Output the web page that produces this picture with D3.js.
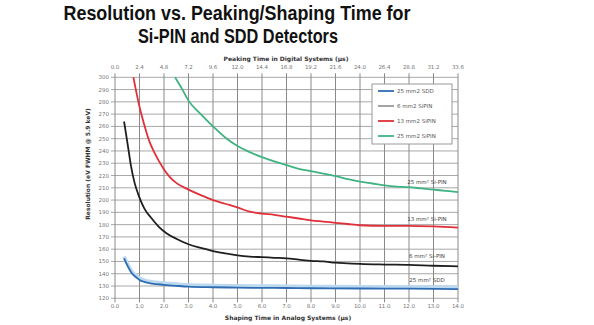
<!DOCTYPE html>
<html><head><meta charset="utf-8">
<script src="https://cdn.jsdelivr.net/npm/d3@7"></script>
<style>body{margin:0;background:#fff}svg{display:block}</style>
</head><body>
<svg id="c" width="594" height="325"></svg>
<script>
const xTicks = [0,1,2,3,4,5,6,7,8,9,10,11,12,13,14];
const topTickLabels = ["0.0","2.4","4.8","7.2","9.6","12.0","14.4","16.8","19.2","21.6","24.0","26.4","28.8","31.2","33.6"];
const yTicks = [120,130,140,150,160,170,180,190,200,210,220,230,240,250,260,270,280,290,300];

const seriesNames = ["25 mm2 SDD","6 mm2 SiPIN","13 mm2 SiPIN","25 mm2 SiPIN"];
const seriesColors = ["#2f6db3","#1f1f1f","#e0303a","#3fb382"];
const legendColors = ["#2f6db3","#9a9a9a","#e0303a","#3fb382"];

const sddX = [0.37,0.45,0.55,0.65,0.75,0.9,1.0,1.2,1.5,2.0,2.5,3.0,4.0,5.0,6.0,7.0,8.0,10.0,12.0,14.0];
const sddY = [152.5,149,145,141.5,139,136.5,135,133.3,132,131,130.2,129.5,129,128.7,128.5,128.4,128.2,128,127.8,127.5];

const pin6X = [0.37,0.45,0.55,0.65,0.8,1.0,1.2,1.5,1.8,2.1,2.5,3.0,3.5,4.0,4.5,5.0,5.5,6.0,6.5,7.0,7.5,8.0,8.5,9.0,9.5,10.0,11.0,12.0,13.0,14.0];
const pin6Y = [264,254,241,228,214,202,193,185,178,173,168.5,164,161,158.5,156.5,155,154,153.5,153,152.5,151.5,150.5,150,149,148.5,148,147.5,147.2,146.5,146];

const pin13X = [0.75,0.85,1.0,1.2,1.4,1.6,1.8,2.0,2.25,2.5,2.75,3.0,3.5,4.0,4.5,5.0,5.5,6.0,6.5,7.0,7.5,8.0,8.5,9.0,9.5,10.0,11.0,12.0,13.0,14.0];
const pin13Y = [300,290,276,261,248,239,231.5,225,218.5,214,211,208.5,204,200,197,194,190.5,189,188,186.5,185,183.5,182.5,181.5,180.5,179.5,179,179,178.5,177.5];

const pin25X = [2.45,2.75,3.0,3.5,4.0,4.5,5.0,5.5,6.0,6.5,7.0,7.5,8.0,8.5,9.0,9.5,10.0,10.5,11.0,11.5,12.0,12.5,13.0,13.5,14.0];
const pin25Y = [300,290,281,270,260,251,244,239,235,231.5,228.5,225.5,223.5,221.5,219.5,217,215,213.5,212,211,210.5,209.5,208.5,207.5,206.5];

const curveLabels = ["25 mm² SDD","6 mm² Si-PIN","13 mm² Si-PIN","25 mm² Si-PIN"];
const curveLabelY = [133,153,183,213];

const svg = d3.select("#c");
const L = 115, R = 458, T = 77.3, B = 298.3;
const x = d3.scaleLinear().domain([0,14]).range([L,R]);
const y = d3.scaleLinear().domain([120,300]).range([B,T]);

// title
const title = svg.append("g").attr("font-family","'Liberation Sans', Arial, sans-serif").attr("font-weight","bold").attr("font-size",20).attr("fill","#111").attr("text-anchor","middle");
title.append("text").attr("x",237).attr("y",20).attr("textLength",347).attr("lengthAdjust","spacingAndGlyphs").text("Resolution vs. Peaking/Shaping Time for");
title.append("text").attr("x",238).attr("y",43).attr("textLength",200).attr("lengthAdjust","spacingAndGlyphs").text("Si-PIN and SDD Detectors");

// grid
const grid = svg.append("g");
grid.selectAll("line.h").data(yTicks).join("line")
  .attr("x1",L-4).attr("x2",R).attr("y1",d=>y(d)).attr("y2",d=>y(d))
  .attr("stroke","#a8a8a8").attr("stroke-width",1);
grid.selectAll("line.v").data(xTicks).join("line")
  .attr("x1",d=>x(d)).attr("x2",d=>x(d)).attr("y1",T-4).attr("y2",B+4)
  .attr("stroke","#8a8a8a").attr("stroke-width",1);

// axes labels
const small = svg.append("g").attr("font-family","'DejaVu Sans', sans-serif").attr("font-size",5.5).attr("fill","#777");
small.selectAll("text.y").data(yTicks).join("text")
  .attr("x",L-6).attr("y",d=>y(d)+2).attr("text-anchor","end").text(d=>d);
small.selectAll("text.b").data(xTicks).join("text")
  .attr("x",d=>x(d)).attr("y",B+10).attr("text-anchor","middle").text(d=>d3.format(".1f")(d));
small.selectAll("text.t").data(xTicks).join("text")
  .attr("x",d=>x(d)).attr("y",T-8).attr("text-anchor","middle").text((d,i)=>topTickLabels[i]);

const axTitle = svg.append("g").attr("font-family","'DejaVu Sans', sans-serif").attr("font-size",6).attr("font-weight","bold").attr("fill","#333").attr("text-anchor","middle");
axTitle.append("text").attr("x",286).attr("y",61).text("Peaking Time in Digital Systems (µs)");
axTitle.append("text").attr("x",288).attr("y",320).text("Shaping Time in Analog Systems (µs)");
axTitle.append("text").attr("transform","translate(90,164) rotate(-90)").text("Resolution (eV FWHM @ 5.9 keV)");

// curves
const line = d3.line().x(d=>x(d[0])).y(d=>y(d[1])).curve(d3.curveMonotoneX);
const series = [d3.zip(sddX,sddY), d3.zip(pin6X,pin6Y), d3.zip(pin13X,pin13Y), d3.zip(pin25X,pin25Y)];
svg.append("path").attr("d",line(series[0].map(d=>[d[0],d[1]+1.5]))).attr("fill","none").attr("stroke","#bcd9f0").attr("stroke-width",3.5);
series.forEach((s,i)=>{
  svg.append("path").attr("d",line(s)).attr("fill","none").attr("stroke",seriesColors[i]).attr("stroke-width",1.8);
});

// curve labels
const cl = svg.append("g").attr("font-family","'DejaVu Sans', sans-serif").attr("font-size",5.5).attr("fill","#444").attr("text-anchor","middle");
cl.selectAll("text").data(curveLabels).join("text").attr("x",427).attr("y",(d,i)=>y(curveLabelY[i])).text(d=>d);

// legend
const lg = svg.append("g");
lg.append("rect").attr("x",372).attr("y",84).attr("width",80).attr("height",60).attr("fill","#fff").attr("stroke","#999").attr("stroke-width",1);
const ly = [91,106,121,136];
seriesNames.forEach((n,i)=>{
  lg.append("line").attr("x1",378).attr("x2",394).attr("y1",ly[i]).attr("y2",ly[i]).attr("stroke",legendColors[i]).attr("stroke-width",1.8);
  lg.append("text").attr("x",397).attr("y",ly[i]+2).attr("font-family","'DejaVu Sans', sans-serif").attr("font-size",5.5).attr("fill","#555").text(n);
});
</script>
</body></html>
